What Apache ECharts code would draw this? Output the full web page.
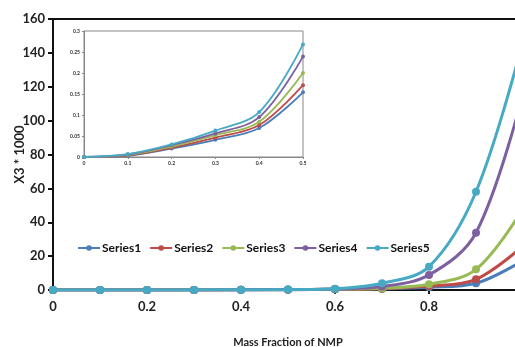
<!DOCTYPE html>
<html><head><meta charset="utf-8">
<script src="https://cdn.jsdelivr.net/npm/echarts@6/dist/echarts.min.js"></script>
<style>html,body{margin:0;padding:0;background:#fff}#c{width:515px;height:347px}</style>
</head><body><div id="c"></div>
<script>
var seriesNames = ['Series1','Series2','Series3','Series4','Series5'];
var colors = ['#4a7ebb','#be4b48','#98b954','#7d60a0','#46aac5'];
// main chart: Mass fraction of NMP vs X3*1000
var xMain = [0,0.1,0.2,0.3,0.4,0.5,0.6,0.7,0.8,0.9,1.0];
var main1 = [0,0.003,0.02,0.041,0.069,0.154,0.4,0.7,1.6,4.0,17.5];
var main2 = [0,0.004,0.022,0.046,0.076,0.171,0.45,0.8,2.3,6.3,26];
var main3 = [0,0.005,0.025,0.052,0.084,0.2,0.5,1.1,3.4,12.2,48];
var main4 = [0,0.006,0.028,0.056,0.095,0.239,0.6,2.0,8.9,33.8,116];
var main5 = [0,0.007,0.03,0.063,0.107,0.268,0.8,4.0,13.8,58,147];
// inset chart: 0 - 0.5
var xInset = [0,0.1,0.2,0.3,0.4,0.5];
var inset1 = [0,0.003,0.02,0.041,0.069,0.154];
var inset2 = [0,0.004,0.022,0.046,0.076,0.171];
var inset3 = [0,0.005,0.025,0.052,0.084,0.2];
var inset4 = [0,0.006,0.028,0.056,0.095,0.239];
var inset5 = [0,0.007,0.03,0.063,0.107,0.268];

var mainData = [main1,main2,main3,main4,main5];
var insetData = [inset1,inset2,inset3,inset4,inset5];
function pairs(xs, ys){ return xs.map(function(x,i){return [x, ys[i]];}); }

var FONT = 'Lato';
var series = [];
seriesNames.forEach(function(n,i){
  series.push({name:n,type:'line',xAxisIndex:0,yAxisIndex:0,data:pairs(xMain,mainData[i]),
    smooth:0.35,symbol:'circle',symbolSize:8,lineStyle:{width:3,color:colors[i]},
    itemStyle:{color:colors[i]},z:2+i});
});
seriesNames.forEach(function(n,i){
  series.push({name:n,type:'line',xAxisIndex:1,yAxisIndex:1,data:pairs(xInset,insetData[i]),
    smooth:0.35,symbol:'circle',symbolSize:4,lineStyle:{width:1.8,color:colors[i]},
    itemStyle:{color:colors[i]},z:20+i});
});

var chart = echarts.init(document.getElementById('c'));
chart.setOption({
  animation:false,
  color:colors,
  textStyle:{fontFamily:FONT},
  legend:{data:seriesNames,left:72,top:237,itemWidth:22,itemHeight:7,itemGap:8,
    textStyle:{fontFamily:FONT,fontWeight:'bold',fontSize:12,color:'#111',padding:[0,0,0,-3]}},
  grid:[
    {left:53,top:19,width:470,height:271,outerBoundsMode:'none',containLabel:false,show:true,borderColor:'#111',borderWidth:2,backgroundColor:'transparent'},
    {left:84,top:31,width:219,height:126,outerBoundsMode:'none',containLabel:false,show:true,borderColor:'#888',borderWidth:1,backgroundColor:'#fff',z:10}
  ],
  xAxis:[
    {type:'value',gridIndex:0,min:0,max:1,interval:0.2,
     name:'Mass Fraction of NMP',nameLocation:'middle',nameGap:47,nameMoveOverlap:false,
     nameTextStyle:{fontFamily:FONT,fontWeight:'bold',fontSize:11,color:'#222'},
     axisLine:{lineStyle:{color:'#111',width:2}},axisTick:{show:true,length:4,lineStyle:{color:'#111',width:2}},
     axisLabel:{fontFamily:FONT,fontWeight:'bold',fontSize:13,color:'#222',margin:10},
     splitLine:{show:false}},
    {type:'value',gridIndex:1,min:0,max:0.5,interval:0.1,
     axisLine:{lineStyle:{color:'#888',width:1}},axisTick:{show:true,length:2,lineStyle:{color:'#888'}},
     axisLabel:{fontFamily:FONT,fontWeight:'bold',fontSize:5,color:'#333',margin:4},
     splitLine:{show:false},z:10}
  ],
  yAxis:[
    {type:'value',gridIndex:0,min:0,max:160,interval:20,
     name:'X3 * 1000',nameLocation:'middle',nameGap:27,nameRotate:90,nameMoveOverlap:false,
     nameTextStyle:{fontFamily:FONT,fontWeight:'bold',fontSize:13,color:'#222'},
     axisLine:{lineStyle:{color:'#111',width:2}},axisTick:{show:true,length:5,lineStyle:{color:'#111',width:2}},
     axisLabel:{fontFamily:FONT,fontWeight:'bold',fontSize:13,color:'#222',margin:8},
     splitLine:{show:false}},
    {type:'value',gridIndex:1,min:0,max:0.3,interval:0.05,
     axisLine:{show:true,lineStyle:{color:'#888',width:1}},axisTick:{show:true,length:2,lineStyle:{color:'#888'}},
     axisLabel:{fontFamily:FONT,fontWeight:'bold',fontSize:5,color:'#333',margin:4},
     splitLine:{show:false},z:10}
  ],
  series:series
});
</script></body></html>
